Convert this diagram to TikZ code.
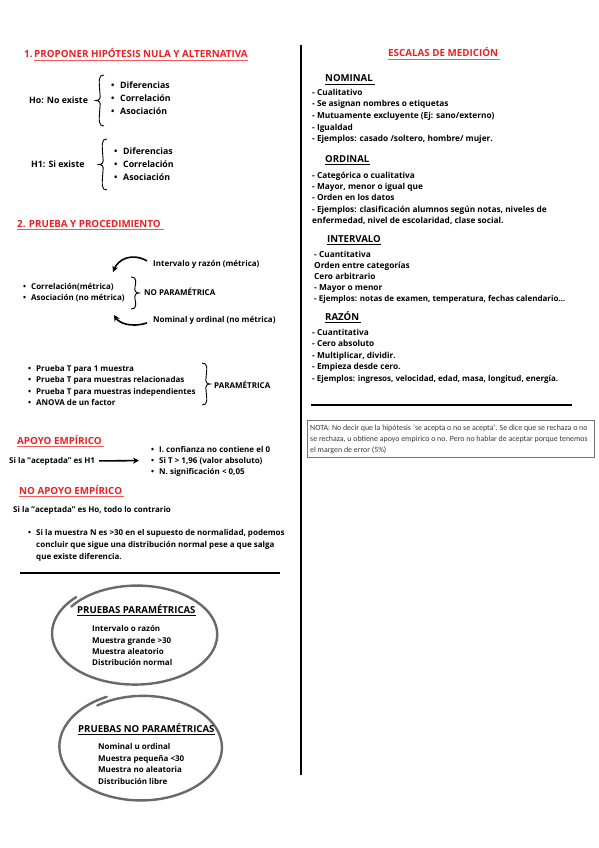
\documentclass[tikz,border=0pt]{standalone}
\usepackage{fontspec}
\setmainfont{Open Sans}
\newfontfamily\notefont{Carlito}
\usetikzlibrary{arrows.meta,calc}
\definecolor{hred}{RGB}{236,32,36}
\definecolor{ulred}{RGB}{242,90,90}
\definecolor{ringgray}{RGB}{105,105,105}
\newcommand\bul{\makebox[9pt][l]{\textbullet}}
\newcommand\dq{\char"22\relax}
% left-pointing brace: x = left edge, #2 top, #3 bottom
\newcommand\mybraceL[3]{%
  \draw[brc] (#1+8,#2) .. controls (#1+2,#2) and (#1+3,#2+5) .. (#1+4,{(#2+#3)/2-6})
    .. controls (#1+5,{(#2+#3)/2-2}) and (#1+3,{(#2+#3)/2}) .. (#1,{(#2+#3)/2})
    .. controls (#1+3,{(#2+#3)/2}) and (#1+5,{(#2+#3)/2+2}) .. (#1+4,{(#2+#3)/2+6})
    .. controls (#1+3,#3-5) and (#1+2,#3) .. (#1+8,#3);}
% right-pointing brace
\newcommand\mybraceR[3]{%
  \draw[brc] (#1,#2) .. controls (#1+6,#2) and (#1+5,#2+5) .. (#1+4,{(#2+#3)/2-6})
    .. controls (#1+3,{(#2+#3)/2-2}) and (#1+5,{(#2+#3)/2}) .. (#1+8,{(#2+#3)/2})
    .. controls (#1+5,{(#2+#3)/2}) and (#1+3,{(#2+#3)/2+2}) .. (#1+4,{(#2+#3)/2+6})
    .. controls (#1+5,#3-5) and (#1+6,#3) .. (#1,#3);}
\tikzset{
  txt/.style={inner sep=0pt, anchor=base west, font=\fontsize{8}{10}\selectfont\bfseries},
  txtb/.style={txt, font=\fontsize{8.8}{10}\selectfont\bfseries},
  txtr/.style={txt, font=\fontsize{8.3}{10}\selectfont\bfseries},
  head/.style={txt, text=hred, font=\fontsize{9.8}{11}\selectfont\bfseries},
  sub/.style={txt, font=\fontsize{9.6}{11}\selectfont\bfseries},
  note/.style={inner sep=0pt, anchor=base west, font=\fontsize{7.9}{10}\selectfont\notefont, text=black!78},
  ulr/.style={draw=ulred, line width=1.3pt},
  ulk/.style={draw=black, line width=1pt},
  brc/.style={draw=black, line width=0.9pt},
  arr/.style={draw=black, line width=1.6pt, -{Stealth[length=6pt,width=6pt]}},
  rulel/.style={draw=black, line width=2pt},
  ring/.style={draw=ringgray, line width=2.4pt, line cap=round},
}
\begin{document}
\begin{tikzpicture}[x=1pt,y=-1pt]
\useasboundingbox (0,0) rectangle (599,848);
\fill[white] (0,0) rectangle (599,848);

% ---------- LEFT COLUMN ----------
\node[head] (n1) at (24,58) {1.};
\node[head] (t1) at (34,58) {PROPONER HIPÓTESIS NULA Y ALTERNATIVA};
\draw[ulr] ([yshift=-2.5pt]t1.base west) -- ([yshift=-2.5pt]t1.base east);

\node[txtb] (ho) at (29,103) {Ho: No existe};
\mybraceL{96}{75}{126}
\node[txtb] (hoa) at (111,89) {\bul Diferencias};
\node[txtb] (hob) at (111,102) {\bul Correlación};
\node[txtb] (hoc) at (111,115) {\bul Asociación};

\node[txtb] (hi) at (31,167) {H1: Si existe};
\mybraceL{99}{139}{190}
\node[txtb] (hia) at (114,154) {\bul Diferencias};
\node[txtb] (hib) at (114,167) {\bul Correlación};
\node[txtb] (hic) at (114,180) {\bul Asociación};

\node[head] (t2) at (17,227) {2. PRUEBA Y PROCEDIMIENTO};
\draw[ulr] ([yshift=-2.5pt]t2.base west) -- ([yshift=-2.5pt,xshift=3pt]t2.base east);

\node[txt] (intv) at (153,266) {Intervalo y razón (métrica)};
\coordinate (a1end) at (113,272);
\draw[arr] ([shift={(-6pt,3pt)}]intv.west) .. controls (131,252) and (118,260) .. (a1end);
\node[txt] (cora) at (23,289) {\makebox[8pt][l]{\textbullet}Correlación(métrica)};
\node[txt] (corb) at (23,300) {\makebox[8pt][l]{\textbullet}Asociación (no métrica)};
\mybraceR{131}{277}{309}
\node[txt] (nopar) at (144,295) {NO PARAMÉTRICA};
\node[txt] (nom) at (153,322) {Nominal y ordinal (no métrica)};
\coordinate (a2end) at (114,315);
\draw[arr] ([shift={(-6pt,-3pt)}]nom.west) .. controls (131,328) and (119,323) .. (a2end);

\node[txt] (pa) at (28,371) {\makebox[8pt][l]{\textbullet}Prueba T para 1 muestra};
\node[txt] (pb) at (28,382) {\makebox[8pt][l]{\textbullet}Prueba T para muestras relacionadas};
\node[txt] (pc) at (28,394) {\makebox[8pt][l]{\textbullet}Prueba T para muestras independientes};
\node[txt] (pd) at (28,405) {\makebox[8pt][l]{\textbullet}ANOVA de un factor};
\mybraceR{202}{363}{405}
\node[txt] (par) at (214,388) {PARAMÉTRICA};

\node[head] (t3) at (17,444) {APOYO EMPÍRICO};
\draw[ulr] ([yshift=-2.5pt]t3.base west) -- ([yshift=-2.5pt,xshift=2pt]t3.base east);
\node[txt] (si1) at (9,463) {Si la \dq aceptada\dq{} es H1};
\node[txt] (ica) at (151,452) {\makebox[8pt][l]{\textbullet}I. confianza no contiene el 0};
\node[txt] (icb) at (151,463) {\makebox[8pt][l]{\textbullet}Si T > 1,96 (valor absoluto)};
\node[txt] (icc) at (151,474) {\makebox[8pt][l]{\textbullet}N. significación < 0,05};
\coordinate (a3end) at ([xshift=-12pt]icb.west);
\draw[arr] ([xshift=4pt]si1.east) -- (a3end);

\node[head] (t4) at (19,494) {NO APOYO EMPÍRICO};
\draw[ulr] ([yshift=-2.5pt]t4.base west) -- ([yshift=-2.5pt,xshift=2pt]t4.base east);
\node[txt] (siho) at (13,512) {Si la \dq aceptada\dq{} es Ho, todo lo contrario};
\node[txt] (ma) at (28,535) {\makebox[8pt][l]{\textbullet}Si la muestra N es >30 en el supuesto de normalidad, podemos};
\node[txt] (mb) at (36,547) {concluir que sigue una distribución normal pese a que salga};
\node[txt] (mc) at (36,559) {que existe diferencia.};

\draw[rulel] (20,573) -- (280,573);

% ellipse 1
\draw[ring] plot[smooth, samples=100, domain=215:585]
  ({136+81*(0.975+0.07*(\x-215)/370)*cos(\x)}, {634+49*(0.975+0.09*(\x-215)/370)*sin(\x)});
\node[sub] (pp) at (77,613) {PRUEBAS PARAMÉTRICAS};
\draw[ulk] ([yshift=-2.2pt]pp.base west) -- ([yshift=-2.2pt]pp.base east);
\node[txt] (ppa) at (92,631) {Intervalo o razón};
\node[txt] (ppb) at (92,643) {Muestra grande >30};
\node[txt] (ppc) at (92,654) {Muestra aleatorio};
\node[txt] (ppd) at (92,665) {Distribución normal};

% ellipse 2
\draw[ring] plot[smooth, samples=100, domain=235:605]
  ({142+80*(0.975+0.07*(\x-235)/370)*cos(\x)}, {747+52*(0.975+0.09*(\x-235)/370)*sin(\x)});
\node[sub] (pn) at (78,732) {PRUEBAS NO PARAMÉTRICAS};
\draw[ulk] ([yshift=-2.2pt]pn.base west) -- ([yshift=-2.2pt]pn.base east);
\node[txt] (pna) at (98,749) {Nominal u ordinal};
\node[txt] (pnb) at (98,761) {Muestra pequeña <30};
\node[txt] (pnc) at (98,772) {Muestra no aleatoria};
\node[txt] (pnd) at (98,784) {Distribución libre};

% vertical divider
\draw[rulel] (301,45) -- (301,775);

% ---------- RIGHT COLUMN ----------
\node[head] (esc) at (388,57) {ESCALAS DE MEDICIÓN};
\draw[ulr] ([yshift=-2.5pt]esc.base west) -- ([yshift=-2.5pt,xshift=2pt]esc.base east);

\node[sub] (nomi) at (325,82) {NOMINAL};
\draw[ulk] ([yshift=-2.2pt]nomi.base west) -- ([yshift=-2.2pt,xshift=2pt]nomi.base east);
\node[txtr] (na) at (312,96) {- Cualitativo};
\node[txtr] (nb) at (312,107) {- Se asignan nombres o etiquetas};
\node[txtr] (nc) at (312,119) {- Mutuamente excluyente (Ej: sano/externo)};
\node[txtr] (nd) at (312,131) {- Igualdad};
\node[txtr] (ne) at (312,142) {- Ejemplos: casado /soltero, hombre/ mujer.};

\node[sub] (ordi) at (325,162) {ORDINAL};
\draw[ulk] ([yshift=-2.2pt]ordi.base west) -- ([yshift=-2.2pt]ordi.base east);
\node[txtr] (oa) at (312,178) {- Categórica o cualitativa};
\node[txtr] (ob) at (312,189) {- Mayor, menor o igual que};
\node[txtr] (oc) at (312,200) {- Orden en los datos};
\node[txtr] (od) at (312,212) {- Ejemplos: clasificación alumnos según notas, niveles de};
\node[txtr] (oe) at (312,223) {enfermedad, nivel de escolaridad, clase social.};

\node[sub] (inte) at (327,242) {INTERVALO};
\draw[ulk] ([yshift=-2.2pt]inte.base west) -- ([yshift=-2.2pt]inte.base east);
\node[txtr] (ia) at (314,257) {- Cuantitativa};
\node[txtr] (ib) at (314,268) {Orden entre categorías};
\node[txtr] (ic) at (314,279) {Cero arbitrario};
\node[txtr] (id) at (314,290) {- Mayor o menor};
\node[txt] (ie) at (314,301) {- Ejemplos: notas de examen, temperatura, fechas calendario…};

\node[sub] (razo) at (325,320) {RAZÓN};
\draw[ulk] ([yshift=-2.2pt]razo.base west) -- ([yshift=-2.2pt,xshift=2pt]razo.base east);
\node[txtr] (ra) at (312,335) {- Cuantitativa};
\node[txtr] (rb) at (312,346) {- Cero absoluto};
\node[txtr] (rc) at (312,358) {- Multiplicar, dividir.};
\node[txtr] (rd) at (312,369) {- Empieza desde cero.};
\node[txt] (re) at (312,381) {- Ejemplos: ingresos, velocidad, edad, masa, longitud, energía.};

\draw[rulel] (311,405) -- (572,405);

\draw[draw=black!55, line width=0.8pt] (307,420) rectangle (594,457);
\node[note] (nt1) at (310,430) {NOTA: No decir que la hipótesis `se acepta o no se acepta'. Se dice que se rechaza o no};
\node[note] (nt2) at (310,441) {se rechaza, u obtiene apoyo empírico o no. Pero no hablar de aceptar porque tenemos};
\node[note] (nt3) at (310,452) {el margen de error (5\%)};
\end{tikzpicture}
\end{document}
